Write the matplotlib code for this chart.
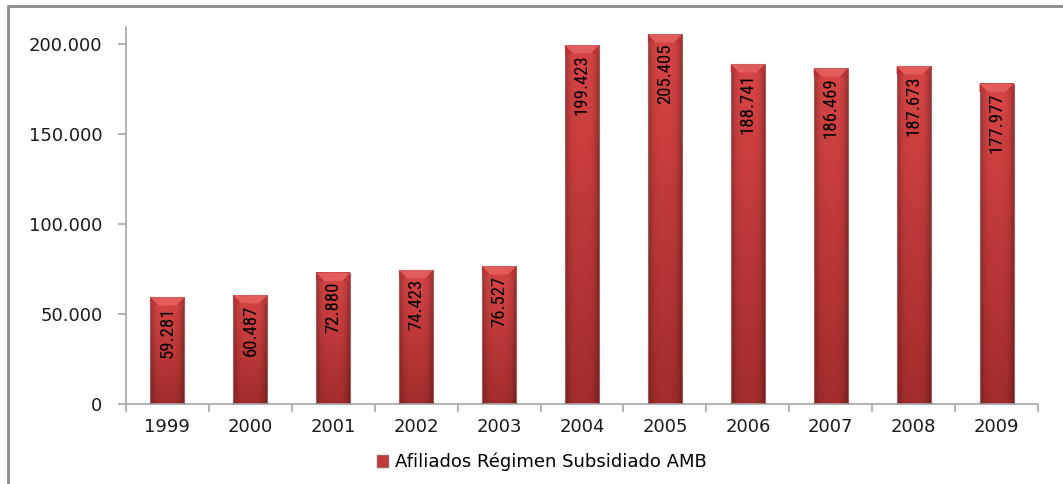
import numpy as np
import matplotlib.pyplot as plt
from matplotlib import font_manager
from matplotlib.patches import Polygon, Rectangle
from matplotlib.colors import to_rgb

# data
years = ['1999', '2000', '2001', '2002', '2003', '2004', '2005', '2006', '2007', '2008', '2009']
afiliados = [59281, 60487, 72880, 74423, 76527, 199423, 205405, 188741, 186469, 187673, 177977]
labels = ['59.281', '60.487', '72.880', '74.423', '76.527', '199.423', '205.405',
          '188.741', '186.469', '187.673', '177.977']
legend_label = 'Afiliados Régimen Subsidiado AMB'

plt.rcParams['font.family'] = ['DejaVu Sans']


def has_font(name):
    try:
        font_manager.findfont(font_manager.FontProperties(family=name), fallback_to_default=False)
        return True
    except Exception:
        return False


# narrow font for the value labels, if there is one
label_font, label_size = 'DejaVu Sans', 10.5
for name, size in [('Liberation Sans Narrow', 14.4), ('DejaVu Sans Condensed', 12.0),
                   ('Roboto Condensed', 13.5), ('Roboto', 11.8)]:
    if has_font(name):
        label_font, label_size = name, size
        break

fig = plt.figure(figsize=(10.63, 4.84), dpi=100)
ax = fig.add_axes([0.1185, 0.1653, 0.858, 0.779])

# outer frame (only left and top visible in the reference)
fig.patches.append(Rectangle((0.0079, -0.05), 1.2, 1.0378, transform=fig.transFigure,
                             fill=False, edgecolor='#8c8c8c', linewidth=2.0))

x = np.arange(len(years))
w = 0.41
ymax = 209500
ax.set_xlim(-0.5, len(years) - 0.5)
ax.set_ylim(0, ymax)

top_c = np.array(to_rgb('#d84545'))
bot_c = np.array(to_rgb('#a32c2c'))
edge_dark = 0.72

for xi, v, lab in zip(x, afiliados, labels):
    # gradient body
    ny, nx = 64, 32
    t = np.linspace(1, 0, ny)[:, None, None]
    col = bot_c + (top_c - bot_c) * t
    hx = np.linspace(-1, 1, nx)
    shade = 1 - (1 - edge_dark) * np.abs(hx) ** 4
    img = col * shade[None, :, None]
    img = np.broadcast_to(img, (ny, nx, 3))
    ax.imshow(img, extent=(xi - w / 2, xi + w / 2, 0, v), aspect='auto',
              interpolation='bilinear', zorder=2)
    ax.add_patch(Rectangle((xi - w / 2, 0), w, v, fill=False,
                           edgecolor='#9a6060', linewidth=0.8, zorder=3))
    # bevel at top
    bev = 4500
    d = w * 0.22
    ax.add_patch(Polygon([(xi - w / 2, v), (xi + w / 2, v), (xi + w / 2 - d, v - bev),
                          (xi - w / 2 + d, v - bev)], closed=True,
                         facecolor='#e25c5c', edgecolor='none', zorder=3))
    ax.add_patch(Polygon([(xi - w / 2, v), (xi - w / 2 + d, v - bev), (xi - w / 2, v - bev)],
                         closed=True, facecolor='#b83434', edgecolor='none', zorder=3))
    ax.add_patch(Polygon([(xi + w / 2, v), (xi + w / 2 - d, v - bev), (xi + w / 2, v - bev)],
                         closed=True, facecolor='#b83434', edgecolor='none', zorder=3))
    ax.text(xi, v - 5000, lab, rotation=90, ha='center', va='top', fontsize=label_size,
            family=[label_font, 'DejaVu Sans'], color='black', zorder=4)

# axes styling
for s in ['top', 'right']:
    ax.spines[s].set_visible(False)
ax.spines['left'].set_color('#a6a6a6')
ax.spines['bottom'].set_color('#a6a6a6')
ax.spines['left'].set_linewidth(1.2)
ax.spines['bottom'].set_linewidth(1.2)

ax.set_yticks([0, 50000, 100000, 150000, 200000])
ax.set_yticklabels(['0', '50.000', '100.000', '150.000', '200.000'])
ax.tick_params(axis='y', direction='out', length=6, width=1.2, color='#a6a6a6',
               labelsize=13, pad=11, labelcolor='#1a1a1a')

ax.set_xticks(np.arange(-0.5, len(years), 1.0))
ax.set_xticklabels([])
ax.tick_params(axis='x', which='major', direction='out', length=6, width=1.2, color='#a6a6a6')
ax.set_xticks(x, minor=True)
ax.set_xticklabels(years, minor=True)
ax.tick_params(axis='x', which='minor', length=0, labelsize=13, pad=10, labelcolor='#1a1a1a')

# legend
handle = Rectangle((0, 0), 1, 1, facecolor='#c43a3a', edgecolor='#9a6060')
fig.legend([handle], [legend_label], loc='center', bbox_to_anchor=(542 / 1063, 1 - 462 / 484),
           frameon=False, fontsize=13, handlelength=0.6, handleheight=0.6, handletextpad=0.4)

fig.savefig('out.png', dpi=100, facecolor='white')
